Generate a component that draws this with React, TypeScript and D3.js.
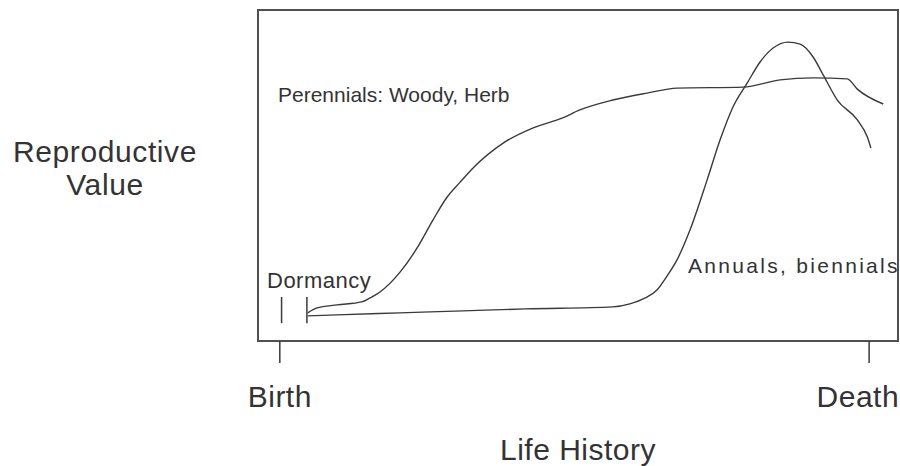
import React, { useEffect, useRef } from 'react';
import * as d3 from 'd3';

// life history: 0 = birth, 100 = death; reproductive value: 0..100 of frame height
const perennialAge = [4.75, 6.3, 9.7, 13.9, 15.3, 17.0, 20.4, 23.3, 26.0, 28.4, 30.6, 32.8, 37.9, 43.0, 48.0, 50.9, 56.5, 62.3, 67.4, 78.6, 84.9, 90.5, 96.3, 98.0, 102.4];
const perennialValue = [8.5, 10.0, 10.9, 11.8, 13.0, 14.8, 20.8, 28.1, 36.6, 43.5, 48.0, 52.3, 59.8, 64.4, 67.4, 69.8, 72.8, 74.9, 76.4, 76.7, 78.9, 79.5, 79.2, 76.1, 71.6];

const annualAge = [4.75, 9.7, 20.4, 31.1, 41.6, 56.5, 59.4, 62.0, 64.0, 65.7, 67.4, 69.6, 72.5, 74.7, 76.9, 79.3, 81.5, 83.7, 86.2, 88.3, 90.5, 92.2, 94.6, 98.0, 99.7, 100.3];
const annualValue = [7.6, 7.9, 8.5, 9.1, 9.7, 10.3, 11.2, 13.0, 15.4, 19.6, 24.5, 33.5, 48.6, 60.7, 70.7, 77.9, 84.3, 88.5, 90.3, 89.7, 85.8, 80.4, 72.8, 66.8, 61.6, 58.3];

const dormancyAges = [0.3, 4.6];
const dormancySpan = [5.4, 13.3];

const axisTicks = [0, 100];
const axisTickLabels = ['Birth', 'Death'];

const ageDomain = [-3.7, 104.9];
const valueDomain = [0, 100];

const ink = '#3a3a3a';
const font = '"Liberation Sans", Arial, sans-serif';

const LifeHistoryChart = ({ width, height }) => {
  const graphRef = useRef(null);

  useEffect(() => {
    if (!graphRef.current) return;
    const svg = d3.select(graphRef.current);
    svg.selectAll('*').remove();

    const frame = { left: 258, right: 898, top: 10, bottom: 341 };

    const x = d3.scaleLinear().domain(ageDomain).range([frame.left, frame.right]);
    const y = d3.scaleLinear().domain(valueDomain).range([frame.bottom, frame.top]);

    const line = d3.line()
      .x(d => x(d[0]))
      .y(d => y(d[1]))
      .curve(d3.curveMonotoneX);

    const perennials = d3.zip(perennialAge, perennialValue);
    const annuals = d3.zip(annualAge, annualValue);

    [perennials, annuals].forEach(series => {
      svg.append('path')
        .attr('d', line(series))
        .attr('fill', 'none')
        .attr('stroke', ink)
        .attr('stroke-width', 1.4);
    });

    // dormancy markers
    dormancyAges.forEach(a => {
      svg.append('line')
        .attr('x1', x(a)).attr('x2', x(a))
        .attr('y1', y(dormancySpan[0])).attr('y2', y(dormancySpan[1]))
        .attr('stroke', ink)
        .attr('stroke-width', 1.5);
    });

    // frame
    svg.append('rect')
      .attr('x', x(ageDomain[0]))
      .attr('y', y(valueDomain[1]))
      .attr('width', x(ageDomain[1]) - x(ageDomain[0]))
      .attr('height', y(valueDomain[0]) - y(valueDomain[1]))
      .attr('fill', 'none')
      .attr('stroke', '#505050')
      .attr('stroke-width', 2);

    // bottom axis ticks
    axisTicks.forEach((t, i) => {
      svg.append('line')
        .attr('x1', x(t)).attr('x2', x(t))
        .attr('y1', frame.bottom).attr('y2', frame.bottom + 22)
        .attr('stroke', ink)
        .attr('stroke-width', 1.5);
      svg.append('text')
        .attr('x', i === 0 ? x(t) : x(t) + 30)
        .attr('y', 407)
        .attr('text-anchor', i === 0 ? 'middle' : 'end')
        .style('font-size', '30px')
        .style('letter-spacing', '0.5px')
        .text(axisTickLabels[i]);
    });

    const label = (txt, px, py, size, spacing, anchor = 'start') =>
      svg.append('text')
        .attr('x', px)
        .attr('y', py)
        .attr('text-anchor', anchor)
        .style('font-size', `${size}px`)
        .style('letter-spacing', `${spacing}px`)
        .text(txt);

    label('Life History', 578, 460, 30, 0.5, 'middle');
    label('Reproductive', 105, 162, 30, 0.6, 'middle');
    label('Value', 105, 195, 30, 0.6, 'middle');
    label('Perennials: Woody, Herb', 278, 102, 21, 0);
    label('Dormancy', 267, 288, 22, 0.5);
    label('Annuals, biennials', 688, 273, 21, 2.3);

    svg.selectAll('text')
      .attr('fill', '#333')
      .style('font-family', font);
  }, [width, height]);

  return <svg ref={graphRef} width={width} height={height} style={{ position: 'absolute', left: 0, top: 0, background: '#fff' }} />;
};

export default function App() {
  return <LifeHistoryChart width={900} height={466} />;
}
